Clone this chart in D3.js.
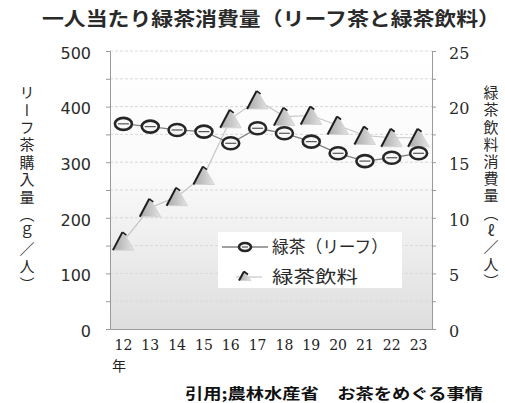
<!DOCTYPE html>
<html>
<head>
<meta charset="utf-8">
<script src="https://cdn.jsdelivr.net/npm/d3@7"></script>
<style>
  html, body { margin: 0; padding: 0; background: #fff; }
  svg { display: block; }
</style>
</head>
<body>
<svg id="chart" width="505" height="403"></svg>
<script>
// 年度（平成）
const years = ["12", "13", "14", "15", "16", "17", "18", "19", "20", "21", "22", "23"];
// リーフ茶購入量（g／人）
const leafTea = [369, 364, 358, 355, 334, 361, 352, 337, 316, 302, 308, 316];
// 緑茶飲料消費量（ℓ／人）
const teaDrink = [7.9, 10.9, 11.9, 13.8, 18.9, 20.6, 19.1, 19.2, 18.3, 17.4, 17.2, 17.2];
const leftTicks = [0, 100, 200, 300, 400, 500];
const rightTicks = [0, 5, 10, 15, 20, 25];
const seriesNames = ["緑茶（リーフ）", "緑茶飲料"];

const svg = d3.select("#chart");
const plot = { left: 110, right: 432, top: 51, bottom: 329 };

const x = d3.scaleBand().domain(years).range([plot.left, plot.right]);
const yL = d3.scaleLinear().domain([0, 500]).range([plot.bottom, plot.top]);
const yR = d3.scaleLinear().domain([0, 25]).range([plot.bottom, plot.top]);
const cx = d => x(d) + x.bandwidth() / 2;

// plot background: white fading to light gray toward the bottom
const defs = svg.append("defs");
const bg = defs.append("linearGradient").attr("id", "bg").attr("x1", 0).attr("y1", 0).attr("x2", 0).attr("y2", 1);
bg.append("stop").attr("offset", "0%").attr("stop-color", "#ffffff");
bg.append("stop").attr("offset", "45%").attr("stop-color", "#fafafa");
bg.append("stop").attr("offset", "100%").attr("stop-color", "#dedede");
const tri = defs.append("linearGradient").attr("id", "tri").attr("x1", 0).attr("y1", 0).attr("x2", 1).attr("y2", 0);
tri.append("stop").attr("offset", "0%").attr("stop-color", "#a8a8a8");
tri.append("stop").attr("offset", "100%").attr("stop-color", "#e4e4e4");

svg.append("rect")
  .attr("x", plot.left).attr("y", plot.top)
  .attr("width", plot.right - plot.left).attr("height", plot.bottom - plot.top)
  .attr("fill", "url(#bg)");

// gridlines every 50 g
const gridVals = d3.range(50, 501, 50);
svg.append("g").selectAll("line").data(gridVals).join("line")
  .attr("x1", plot.left).attr("x2", plot.right)
  .attr("y1", d => yL(d)).attr("y2", d => yL(d))
  .attr("stroke", "#d8d8d8").attr("stroke-width", 1)
  .attr("stroke-dasharray", "3,2");

// left axis
const gL = svg.append("g").attr("transform", `translate(${plot.left},0)`)
  .call(d3.axisLeft(yL).tickValues(d3.range(0, 501, 50)).tickSize(4).tickFormat(d => leftTicks.includes(d) ? d : ""));
gL.select(".domain").attr("stroke", "#9a9a9a");
gL.selectAll(".tick line").attr("stroke", "#9a9a9a");
gL.selectAll(".tick text")
  .attr("x", -19).attr("dy", "0.45em")
  .attr("font-family", "DejaVu Sans").attr("font-size", 16).attr("fill", "#2b2b2b");

// right axis
const gR = svg.append("g").attr("transform", `translate(${plot.right},0)`)
  .call(d3.axisRight(yR).tickValues(d3.range(0, 25.1, 2.5)).tickSize(4).tickFormat(d => rightTicks.includes(d) ? d : ""));
gR.select(".domain").attr("stroke", "#9a9a9a");
gR.selectAll(".tick line").attr("stroke", "#9a9a9a");
gR.selectAll(".tick text")
  .attr("x", 17).attr("dy", "0.45em")
  .attr("font-family", "DejaVu Serif").attr("font-size", 16).attr("fill", "#2b2b2b");

// bottom axis
const gB = svg.append("g").attr("transform", `translate(0,${plot.bottom})`)
  .call(d3.axisBottom(x).tickSize(0));
gB.select(".domain").attr("stroke", "#9a9a9a");
gB.selectAll(".tick text")
  .attr("y", 16).attr("dy", "0.35em")
  .attr("font-family", "DejaVu Serif").attr("font-size", 14).attr("fill", "#222");
svg.append("text").attr("x", 112).attr("y", 371)
  .attr("font-family", "Noto Sans CJK JP").attr("font-size", 14).attr("fill", "#222")
  .text("年");

// triangle marker
function triangle(g, px, py, w, h) {
  const p = d3.path();
  p.moveTo(px, py - h / 2); p.lineTo(px + w / 2, py + h / 2); p.lineTo(px - w / 2, py + h / 2); p.closePath();
  g.append("path").attr("d", p.toString()).attr("fill", "url(#tri)").attr("stroke", "#d4d4d4").attr("stroke-width", 1);
  g.append("line").attr("x1", px - 1).attr("y1", py - h / 2).attr("x2", px - w / 2).attr("y2", py + h / 2)
    .attr("stroke", "#1e1e1e").attr("stroke-width", 2);
  g.append("line").attr("x1", px - 1).attr("y1", py - h / 2).attr("x2", px + 3).attr("y2", py - h / 2 + 3)
    .attr("stroke", "#1e1e1e").attr("stroke-width", 1.6);
}
// ring marker
function ring(g, px, py, rx, ry) {
  g.append("ellipse").attr("cx", px).attr("cy", py).attr("rx", rx).attr("ry", ry)
    .attr("fill", "#f7f7f7").attr("stroke", "#262626").attr("stroke-width", 2.6);
  g.append("line").attr("x1", px - rx + 3).attr("x2", px + rx - 3).attr("y1", py).attr("y2", py)
    .attr("stroke", "#555").attr("stroke-width", 1.2);
}

// 緑茶飲料 line (right axis)
svg.append("path").datum(teaDrink)
  .attr("fill", "none").attr("stroke", "#c6c6c6").attr("stroke-width", 1.2)
  .attr("d", d3.line().x((d, i) => cx(years[i])).y(d => yR(d)));
const gT = svg.append("g");
teaDrink.forEach((d, i) => triangle(gT, cx(years[i]), yR(d), 21, 18));

// 緑茶（リーフ） line (left axis)
svg.append("path").datum(leafTea)
  .attr("fill", "none").attr("stroke", "#808080").attr("stroke-width", 1.3)
  .attr("d", d3.line().x((d, i) => cx(years[i])).y(d => yL(d)));
const gC = svg.append("g");
leafTea.forEach((d, i) => ring(gC, cx(years[i]), yL(d), 8.5, 6));

// legend
const lg = svg.append("g");
lg.append("rect").attr("x", 218).attr("y", 232).attr("width", 184).attr("height", 56).attr("fill", "#ffffff");
lg.append("line").attr("x1", 222).attr("x2", 268).attr("y1", 247).attr("y2", 247).attr("stroke", "#808080").attr("stroke-width", 1.3);
ring(lg, 245, 247, 6, 4);
lg.append("line").attr("x1", 236).attr("x2", 262).attr("y1", 277).attr("y2", 277).attr("stroke", "#c6c6c6").attr("stroke-width", 1.2);
triangle(lg, 245, 276, 12, 9);
lg.append("text").attr("x", 272).attr("y", 253).attr("textLength", 116).attr("lengthAdjust", "spacingAndGlyphs")
  .attr("font-family", "Noto Sans CJK JP").attr("font-size", 17).attr("fill", "#2a2a2a").text(seriesNames[0]);
lg.append("text").attr("x", 272).attr("y", 283).attr("textLength", 86).attr("lengthAdjust", "spacingAndGlyphs")
  .attr("font-family", "Noto Sans CJK JP").attr("font-size", 17).attr("fill", "#2a2a2a").text(seriesNames[1]);

// title
svg.append("text").attr("x", 42).attr("y", 26).attr("textLength", 458).attr("lengthAdjust", "spacingAndGlyphs")
  .attr("font-family", "Noto Sans CJK JP").attr("font-weight", 700).attr("font-size", 19).attr("fill", "#2a2a2a")
  .text("一人当たり緑茶消費量（リーフ茶と緑茶飲料）");

// vertical axis titles
svg.append("text").attr("x", 27).attr("y", 85)
  .style("writing-mode", "vertical-rl")
  .attr("font-family", "Noto Sans CJK JP").attr("font-size", 15).attr("letter-spacing", 2.4).attr("fill", "#2a2a2a")
  .text("リーフ茶購入量（ｇ／人）");
svg.append("text").attr("x", 491).attr("y", 85)
  .style("writing-mode", "vertical-rl")
  .attr("font-family", "Noto Sans CJK JP").attr("font-size", 15).attr("letter-spacing", 2.2).attr("fill", "#2a2a2a")
  .text("緑茶飲料消費量（ℓ／人）");

// source note
svg.append("text").attr("x", 185).attr("y", 399).attr("textLength", 298).attr("lengthAdjust", "spacingAndGlyphs")
  .attr("font-family", "Noto Sans CJK JP").attr("font-weight", 700).attr("font-size", 14.5).attr("fill", "#111")
  .text("引用;農林水産省　お茶をめぐる事情");
</script>
</body>
</html>
